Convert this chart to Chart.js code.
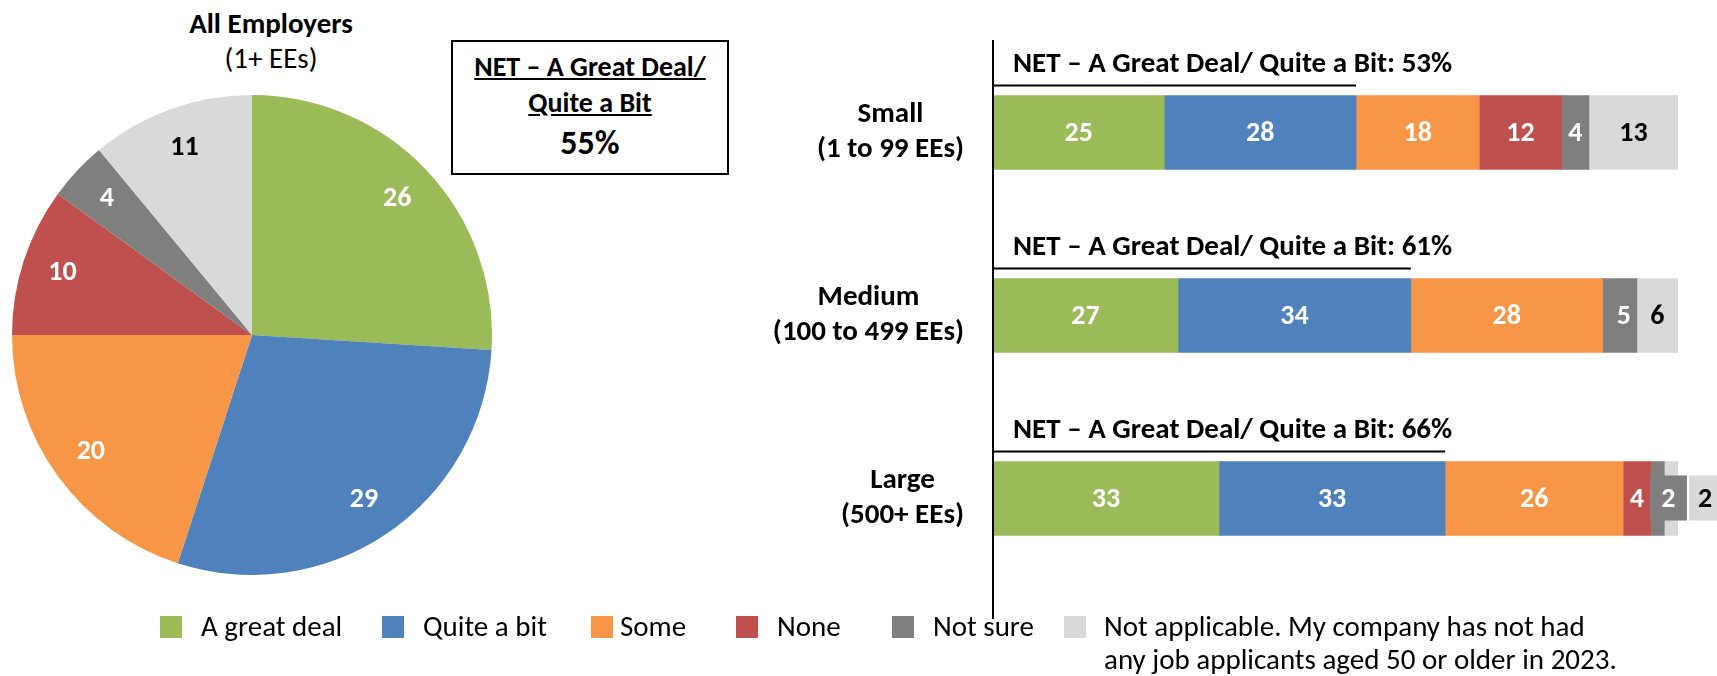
<!DOCTYPE html>
<html lang="en">
<head>
  <meta charset="UTF-8">
  <title>Employer survey</title>
  <script src="https://cdn.jsdelivr.net/npm/chart.js"></script>
  <style>
    body { margin: 0; width: 1717px; height: 676px; background: #fff; position: relative; overflow: hidden; font-family: Carlito, Lato, sans-serif; color: #000; }
    #pieWrap { position: absolute; left: 12px; top: 95px; }
    #barWrap { position: absolute; left: 740px; top: 0; }
    .title { position: absolute; left: 121px; width: 300px; text-align: center; font-size: 29px; line-height: 34px; }
    .netbox { position: absolute; left: 451px; top: 40px; width: 274px; height: 131px; border: 2px solid #000; text-align: center; font-weight: bold; }
    .netbox .u { text-decoration: underline; font-size: 28px; line-height: 36px; }
    .legend { position: absolute; top: 610px; font-size: 29px; line-height: 33px; white-space: nowrap; }
    .swatch { position: absolute; top: 616px; width: 22px; height: 22px; }
  </style>
</head>
<body>
  <div class="title" style="top:6px;font-weight:bold">All Employers</div>
  <div class="title" style="top:41px">(1+ EEs)</div>
  <div class="netbox">
    <div style="margin-top:7px" class="u">NET – A Great Deal/</div>
    <div class="u">Quite a Bit</div>
    <div style="font-size:34px;line-height:44px">55%</div>
  </div>
  <div id="pieWrap"><canvas id="pieChart" width="480" height="480"></canvas></div>
  <div id="barWrap"><canvas id="barChart" width="977" height="676"></canvas></div>
  <div id="legend"></div>

  <script>
    const answers = ['A great deal', 'Quite a bit', 'Some', 'None', 'Not sure', 'Not applicable. My company has not had any job applicants aged 50 or older in 2023.'];
    const colors = ['#9BBB59', '#4F81BD', '#F79646', '#C0504D', '#7F7F7F', '#D9D9D9'];
    const labelColors = ['#fff', '#fff', '#fff', '#fff', '#fff', '#000'];

    // all employers (pie)
    const allEmployers = [26, 29, 20, 10, 4, 11];

    // by size (stacked bars)
    const sizes = [['Small', '(1 to 99 EEs)'], ['Medium', '(100 to 499 EEs)'], ['Large', '(500+ EEs)']];
    const greatDeal = [25, 27, 33];
    const quiteABit = [28, 34, 33];
    const some = [18, 28, 26];
    const none = [12, 0, 4];
    const notSure = [4, 5, 2];
    const notApplicable = [13, 6, 2];
    const netValues = [53, 61, 66];

    const FONT = 'Carlito, Lato, sans-serif';

    // legend
    const swatchX = [160, 382, 591, 736, 892, 1064];
    const textX = [201, 423, 620, 777, 933, 1104];
    const legendEl = document.getElementById('legend');
    answers.forEach((a, i) => {
      const sw = document.createElement('div');
      sw.className = 'swatch';
      sw.style.left = swatchX[i] + 'px';
      sw.style.background = colors[i];
      legendEl.appendChild(sw);
      const d = document.createElement('div');
      d.className = 'legend';
      d.style.left = textX[i] + 'px';
      if (i === 5) d.innerHTML = 'Not applicable. My company has not had<br>any job applicants aged 50 or older in 2023.';
      else d.textContent = a;
      legendEl.appendChild(d);
    });

    const pieLabels = {
      id: 'pieLabels',
      afterDatasetsDraw(chart) {
        const ctx = chart.ctx;
        ctx.save();
        ctx.font = 'bold 28px ' + FONT;
        ctx.textAlign = 'center';
        ctx.textBaseline = 'middle';
        chart.getDatasetMeta(0).data.forEach((arc, i) => {
          const p = arc.getProps(['x', 'y', 'startAngle', 'endAngle', 'outerRadius'], true);
          const mid = (p.startAngle + p.endAngle) / 2;
          const r = p.outerRadius * 0.83;
          ctx.fillStyle = labelColors[i];
          ctx.fillText(allEmployers[i], p.x + Math.cos(mid) * r, p.y + Math.sin(mid) * r);
        });
        ctx.restore();
      }
    };

    new Chart(document.getElementById('pieChart'), {
      type: 'pie',
      data: {
        labels: answers,
        datasets: [{ data: allEmployers, backgroundColor: colors, borderWidth: 0 }]
      },
      options: {
        responsive: false,
        animation: false,
        plugins: { legend: { display: false }, tooltip: { enabled: false } }
      },
      plugins: [pieLabels]
    });

    // small segments on the large bar get labels nudged right
    const labelShift = { '4-1': 4, '4-2': 11, '5-2': 34 };

    const barExtras = {
      id: 'barExtras',
      afterDatasetsDraw(chart) {
        const ctx = chart.ctx;
        const xs = chart.scales.x, ys = chart.scales.y;
        const x0 = xs.getPixelForValue(0);
        ctx.save();
        // axis line
        ctx.strokeStyle = '#000';
        ctx.lineWidth = 2;
        ctx.beginPath();
        ctx.moveTo(x0, 40);
        ctx.lineTo(x0, 619);
        ctx.stroke();

        ctx.textBaseline = 'middle';
        sizes.forEach((lines, i) => {
          const yc = ys.getPixelForValue(i);
          const top = yc - 37;
          // net line + label
          ctx.beginPath();
          ctx.moveTo(x0, top - 10);
          ctx.lineTo(xs.getPixelForValue(netValues[i]), top - 10);
          ctx.stroke();
          ctx.font = 'bold 29px ' + FONT;
          ctx.textAlign = 'left';
          ctx.fillStyle = '#000';
          ctx.fillText('NET – A Great Deal/ Quite a Bit: ' + netValues[i] + '%', x0 + 20, top - 31);
          // category label block
          const w = Math.max(...lines.map(l => ctx.measureText(l).width));
          const right = x0 - 29;
          ctx.textAlign = 'center';
          lines.forEach((l, k) => ctx.fillText(l, right - w / 2, yc + (k - 0.5) * 35));
        });

        // value labels
        ctx.font = 'bold 28px ' + FONT;
        ctx.textAlign = 'center';
        chart.data.datasets.forEach((ds, di) => {
          chart.getDatasetMeta(di).data.forEach((bar, i) => {
            const v = ds.data[i];
            if (!v) return;
            let x = (bar.base + bar.x) / 2;
            const shift = labelShift[di + '-' + i];
            if (shift) x += shift;
            if (shift && i === 2) {
              const bw = di === 5 ? 32 : 37;
              ctx.fillStyle = colors[di];
              ctx.fillRect(x - bw / 2, bar.y - 23, bw, 45);
            }
            ctx.fillStyle = labelColors[di];
            ctx.fillText(v, x, bar.y + 1);
          });
        });
        ctx.restore();
      }
    };

    const series = [greatDeal, quiteABit, some, none, notSure, notApplicable];
    new Chart(document.getElementById('barChart'), {
      type: 'bar',
      data: {
        labels: sizes.map(s => s.join(' ')),
        datasets: series.map((d, i) => ({
          label: answers[i],
          data: d,
          backgroundColor: colors[i],
          borderWidth: 0,
          barThickness: 74
        }))
      },
      options: {
        indexAxis: 'y',
        responsive: false,
        animation: false,
        layout: { padding: { left: 253, right: 39, top: 41, bottom: 86 } },
        scales: {
          x: { stacked: true, min: 0, max: 100, display: false },
          y: { stacked: true, display: false }
        },
        plugins: { legend: { display: false }, tooltip: { enabled: false } }
      },
      plugins: [barExtras]
    });
  </script>
</body>
</html>
